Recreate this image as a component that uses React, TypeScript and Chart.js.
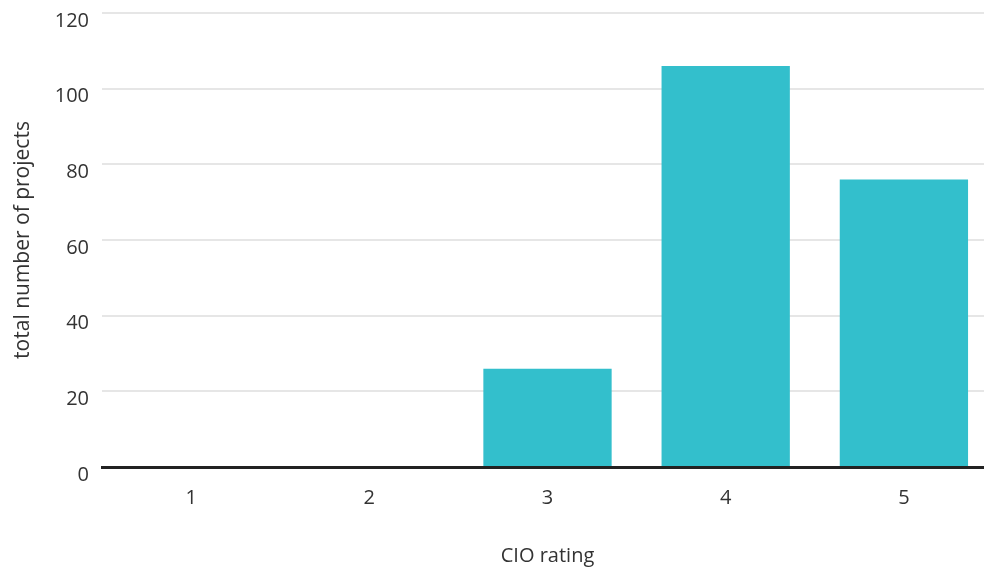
import React, { useEffect, useRef } from "react";
import { Chart, registerables } from "chart.js";

Chart.register(...registerables);

const categories = ["1", "2", "3", "4", "5"];
const projectCounts = [0, 0, 26, 106, 76];
const yTicks = [0, 20, 40, 60, 80, 100, 120];

const FONT = "'Open Sans'";
const TEXT = "#333333";
const PLOT_RIGHT = 993;

const extendRight = {
  id: "extendRight",
  afterLayout(chart: any) {
    const x = chart.scales.x;
    x.right = PLOT_RIGHT;
    x.width = PLOT_RIGHT - x.left;
    x.configure();
    chart.chartArea.right = PLOT_RIGHT;
    chart.chartArea.width = PLOT_RIGHT - chart.chartArea.left;
    const y = chart.scales.y;
    y.configure();
  },
};

export default function App() {
  const ref = useRef<HTMLCanvasElement | null>(null);
  useEffect(() => {
    if (!ref.current) return;
    const chart = new Chart(ref.current, {
      type: "bar",
      data: {
        labels: categories,
        datasets: [
          {
            data: projectCounts,
            backgroundColor: "#33BFCC",
            borderWidth: 0,
            categoryPercentage: 1,
            barPercentage: 0.72,
          },
        ],
      },
      plugins: [extendRight],
      options: {
        responsive: false,
        animation: false,
        layout: { padding: { top: 13, right: 0, left: 0, bottom: 0 } },
        plugins: { legend: { display: false }, tooltip: { enabled: false } },
        scales: {
          x: {
            grid: { display: false, drawTicks: false },
            border: { display: true, color: "#222222", width: 3, z: 1 },
            ticks: {
              color: TEXT,
              font: { family: FONT, size: 20 },
              padding: 19,
            },
            title: {
              display: true,
              text: "CIO rating",
              color: TEXT,
              font: { family: FONT, size: 20 },
              padding: { top: 0, bottom: 4 },
            },
            afterFit: (s: any) => {
              s.height = 105;
              s.paddingLeft = 0;
              s.paddingRight = 0;
            },
          },
          y: {
            min: 0,
            max: 120,
            afterBuildTicks: (s: any) => {
              s.ticks = yTicks.map((v) => ({ value: v }));
            },
            grid: { color: "#e6e6e6", lineWidth: 2, drawTicks: false },
            border: { display: false },
            ticks: {
              color: TEXT,
              font: { family: FONT, size: 20 },
              padding: 13,
              labelOffset: 8,
            },
            title: {
              display: true,
              text: "total number of projects",
              color: TEXT,
              font: { family: FONT, size: 21 },
              padding: { top: 10, bottom: 0 },
            },
            afterFit: (s: any) => {
              s.width = 102;
              s.paddingTop = 0;
              s.paddingBottom = 0;
            },
          },
        },
      },
    });
    return () => chart.destroy();
  }, []);
  return (
    <div style={{ position: "fixed", left: 0, top: 0, width: 984, height: 572, background: "#fff", overflow: "hidden" }}>
      <canvas ref={ref} width={984} height={572} />
    </div>
  );
}
